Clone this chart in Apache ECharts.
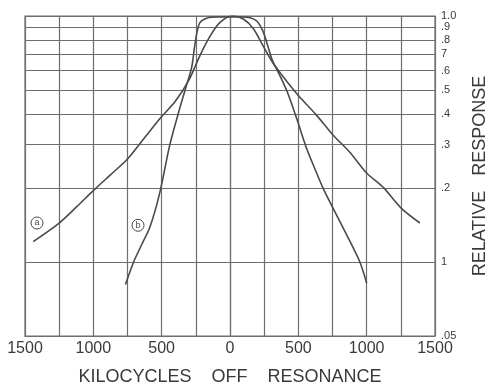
<!DOCTYPE html>
<html>
<head>
<meta charset="utf-8">
<script src="https://cdn.jsdelivr.net/npm/echarts@6/dist/echarts.min.js"></script>
<style>
  html, body { margin: 0; padding: 0; background: #fff; }
  #chart { width: 489px; height: 386px; }
</style>
</head>
<body>
<div id="chart"></div>
<script>
// Selectivity curves: relative response vs. kilocycles off resonance
const curveA = [
  [-1440, 0.121], [-1250, 0.144], [-1125, 0.167], [-1000, 0.195], [-875, 0.226],
  [-750, 0.262], [-625, 0.32], [-500, 0.39], [-400, 0.45], [-300, 0.55],
  [-220, 0.69], [-150, 0.82], [-75, 0.94], [20, 1.0], [100, 0.97], [170, 0.89],
  [240, 0.76], [310, 0.65], [375, 0.58], [500, 0.475], [625, 0.4], [750, 0.33],
  [875, 0.28], [1000, 0.23], [1125, 0.2], [1250, 0.166], [1390, 0.144]
];
const curveB = [
  [-765, 0.081], [-705, 0.1], [-645, 0.118], [-585, 0.139], [-515, 0.19],
  [-440, 0.3], [-366, 0.425], [-315, 0.53], [-280, 0.62], [-262, 0.73],
  [-243, 0.85], [-220, 0.94], [-170, 0.98], [-90, 0.99], [0, 0.99], [90, 0.99],
  [190, 0.96], [240, 0.87], [275, 0.76], [310, 0.66], [360, 0.58], [420, 0.49],
  [490, 0.38], [560, 0.29], [620, 0.24], [680, 0.2], [750, 0.167], [850, 0.13],
  [950, 0.1], [1000, 0.082]
];
const curveTags = [
  { name: 'a', coord: [-1412, 0.144] },
  { name: 'b', coord: [-673, 0.141] }
];
const yTickValues = [0.05, 0.1, 0.2, 0.3, 0.4, 0.5, 0.6, 0.7, 0.8, 0.9, 1.0];
const yTickLabels = ['.05', '1', '.2', '.3', '.4', '.5', '.6', '7', '.8', '.9', '1.0'];
const xTickValues = [-1500, -1000, -500, 0, 500, 1000, 1500];
const xTickLabels = ['1500', '1000', '500', '0', '500', '1000', '1500'];

const ink = '#4a4a4a';
const gridInk = '#6e6e6e';

function tagPoint(tag) {
  return {
    name: tag.name,
    coord: tag.coord,
    symbol: 'circle',
    symbolSize: 12,
    itemStyle: { color: 'rgba(0,0,0,0)', borderColor: ink, borderWidth: 1 },
    label: { show: true, formatter: tag.name, position: 'inside', color: ink, fontSize: 9, fontFamily: 'Liberation Sans' }
  };
}

function curveSeries(name, data, tag) {
  return {
    type: 'line',
    name: name,
    data: data,
    smooth: 0.3,
    showSymbol: false,
    silent: true,
    lineStyle: { color: ink, width: 1.6 },
    markPoint: { silent: true, animation: false, data: [tagPoint(tag)] }
  };
}

const chart = echarts.init(document.getElementById('chart'), null, { renderer: 'canvas' });
chart.setOption({
  animation: false,
  backgroundColor: '#ffffff',
  grid: {
    left: 25, right: 54, top: 16, bottom: 50,
    outerBoundsMode: 'none', containLabel: false,
    show: true, borderColor: gridInk, borderWidth: 1.2
  },
  xAxis: {
    type: 'value',
    min: -1500, max: 1500, interval: 250,
    name: 'KILOCYCLES    OFF    RESONANCE',
    nameLocation: 'middle',
    nameGap: 32,
    nameTextStyle: { fontFamily: 'Liberation Sans', fontSize: 18, color: '#3a3a3a' },
    axisLine: { show: true, lineStyle: { color: gridInk, width: 1.2 } },
    axisTick: { show: false },
    splitLine: { show: true, lineStyle: { color: gridInk, width: 1.2 } },
    axisLabel: {
      margin: 5,
      fontFamily: 'Liberation Sans', fontSize: 16, color: '#3a3a3a',
      formatter: function (v) {
        const i = xTickValues.indexOf(v);
        return i >= 0 ? xTickLabels[i] : '';
      }
    }
  },
  yAxis: {
    type: 'log',
    logBase: 10,
    min: 0.05, max: 1.0,
    position: 'right',
    name: 'RELATIVE   RESPONSE',
    nameLocation: 'middle',
    nameRotate: 90,
    nameGap: 36,
    nameTextStyle: { fontFamily: 'Liberation Sans', fontSize: 18, color: '#3a3a3a' },
    axisLine: { show: true, lineStyle: { color: gridInk, width: 1.2 } },
    axisTick: { show: true, length: 3, customValues: yTickValues, lineStyle: { color: gridInk } },
    splitLine: { show: true, lineStyle: { color: gridInk, width: 1.2 } },
    axisLabel: {
      margin: 6,
      customValues: yTickValues,
      fontFamily: 'Liberation Sans', fontSize: 11, color: '#3a3a3a',
      formatter: function (v) {
        for (let i = 0; i < yTickValues.length; i++) {
          if (Math.abs(yTickValues[i] - v) < 1e-6) return yTickLabels[i];
        }
        return '';
      }
    }
  },
  series: [
    curveSeries('a', curveA, curveTags[0]),
    curveSeries('b', curveB, curveTags[1])
  ]
});
</script>
</body>
</html>
